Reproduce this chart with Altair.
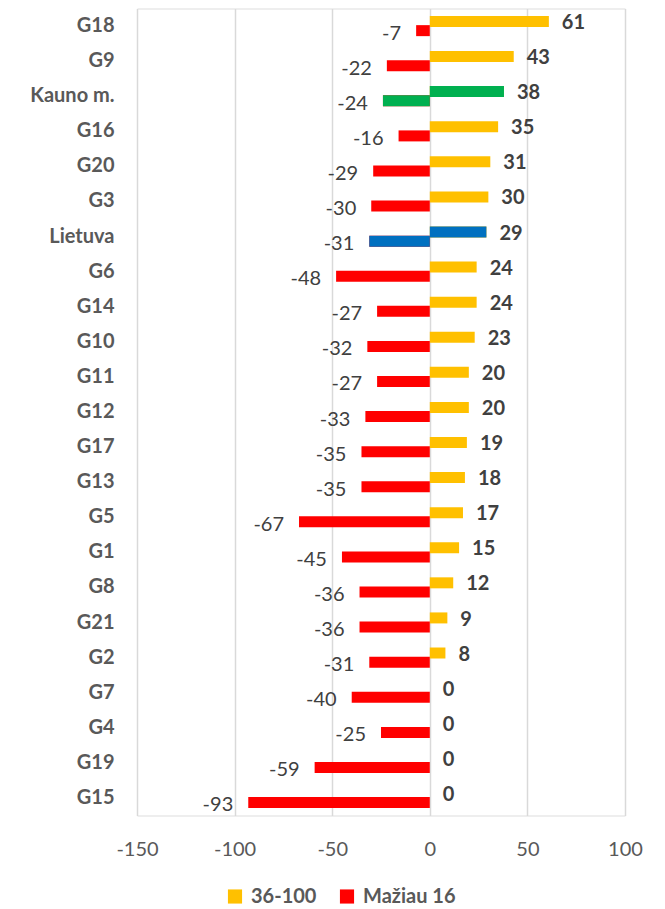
import altair as alt
import pandas as pd

categories = ["G18", "G9", "Kauno m.", "G16", "G20", "G3", "Lietuva", "G6", "G14", "G10",
              "G11", "G12", "G17", "G13", "G5", "G1", "G8", "G21", "G2", "G7", "G4", "G19", "G15"]
high_vals = [61, 43, 38, 35, 31, 30, 29, 24, 24, 23, 20, 20, 19, 18, 17, 15, 12, 9, 8, 0, 0, 0, 0]
low_vals = [-7, -22, -24, -16, -29, -30, -31, -48, -27, -32, -27, -33, -35, -35, -67, -45, -36,
            -36, -31, -40, -25, -59, -93]
series_names = ["36-100", "Mažiau 16"]
series_colors = ["#FFC000", "#FF0000"]
highlight = {"Kauno m.": "#00B050", "Lietuva": "#0070C0"}
x_ticks = [-150, -100, -50, 0, 50, 100]

rows = []
for c, h, l in zip(categories, high_vals, low_vals):
    hl = highlight.get(c, "")
    rows.append({"cat": c, "series": series_names[0], "value": h, "hl": hl, "label": str(h)})
    rows.append({"cat": c, "series": series_names[1], "value": l, "hl": hl, "label": str(l)})
df = pd.DataFrame(rows)

FONT = "Lato"
y_enc = alt.Y("cat:N", sort=categories,
              scale=alt.Scale(paddingInner=0, paddingOuter=0),
              axis=alt.Axis(title=None, labelFont=FONT, labelFontSize=20, labelFontWeight="bold",
                            labelColor="#595959", ticks=False, domain=False, grid=False,
                            labelPadding=23))
x_enc = alt.X("value:Q", scale=alt.Scale(domain=[-150, 100], nice=False, zero=False),
              axis=alt.Axis(title=None, values=x_ticks, labelFont=FONT, labelFontSize=20,
                            labelColor="#595959", ticks=False, domain=False, grid=True,
                            labelFlush=False, labelOverlap=False,
                            labelExpr="toString(datum.value)",
                            gridColor="#d9d9d9", gridWidth=1.5, labelPadding=24))
color_enc = alt.Color("series:N",
                      scale=alt.Scale(domain=series_names, range=series_colors),
                      legend=alt.Legend(title=None, orient="none", direction="horizontal",
                                        legendX=88, legendY=878, symbolType="square",
                                        symbolSize=200, symbolStrokeWidth=0,
                                        labelFont=FONT, labelFontSize=20, labelFontWeight="bold",
                                        labelColor="#595959", labelOffset=6, columnPadding=20))

base = alt.Chart(df)
pos = base.transform_filter(alt.datum.series == series_names[0])
neg = base.transform_filter(alt.datum.series == series_names[1])

bar_pos = pos.mark_bar(size=11, yOffset=-4.6).encode(x=x_enc, y=y_enc, color=color_enc)
bar_neg = neg.mark_bar(size=11, yOffset=4.6).encode(x=x_enc, y=y_enc, color=color_enc)
hl_pos = pos.transform_filter(alt.datum.hl != "").mark_bar(size=11, yOffset=-4.6).encode(
    x="value:Q", y=alt.Y("cat:N", sort=categories), color=alt.Color("hl:N", scale=None, legend=None))
hl_neg = neg.transform_filter(alt.datum.hl != "").mark_bar(size=11, yOffset=4.6).encode(
    x="value:Q", y=alt.Y("cat:N", sort=categories), color=alt.Color("hl:N", scale=None, legend=None))

txt_pos = pos.mark_text(align="left", baseline="middle", dx=13, yOffset=-3, font=FONT,
                        fontSize=20, fontWeight="bold", color="#404040").encode(
    x="value:Q", y=alt.Y("cat:N", sort=categories), text="label:N")
txt_neg = neg.mark_text(align="right", baseline="middle", dx=-15, yOffset=7.5, font=FONT,
                        fontSize=20, color="#404040").encode(
    x="value:Q", y=alt.Y("cat:N", sort=categories), text="label:N")

chart = alt.layer(bar_pos, bar_neg, hl_pos, hl_neg, txt_pos, txt_neg).properties(
    width=488, height=807,
    autosize=alt.AutoSizeParams(type="none"),
    padding={"left": 129, "top": 0.5, "right": 30, "bottom": 92},
).configure_view(stroke=None).configure(background="white")

chart.save("out.html", embed_options={"renderer": "svg", "actions": False})
